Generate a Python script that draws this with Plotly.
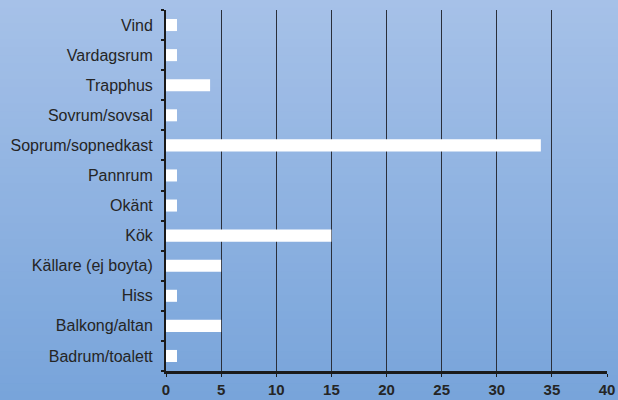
import plotly.graph_objects as go

categories = ["Vind", "Vardagsrum", "Trapphus", "Sovrum/sovsal", "Soprum/sopnedkast",
              "Pannrum", "Okänt", "Kök", "Källare (ej boyta)", "Hiss",
              "Balkong/altan", "Badrum/toalett"]
values = [1, 1, 4, 1, 34, 1, 1, 15, 5, 1, 5, 1]
x_ticks = [0, 5, 10, 15, 20, 25, 30, 35, 40]

fig = go.Figure()
fig.add_trace(go.Bar(
    x=values, y=categories, orientation="h",
    marker=dict(color="white", line=dict(width=0)),
    width=0.4,
))

# vertical background gradient via bands
top = (166, 193, 232)
bot = (120, 164, 218)
T, B = 10, 29
H = 400 - T - B
n = 50
shapes = []
y0p, y1p = 1 + T / H, -B / H
for i in range(n):
    t = i / (n - 1)
    c = tuple(round(top[k] + (bot[k] - top[k]) * t) for k in range(3))
    ya = y0p + (y1p - y0p) * i / n
    yb = y0p + (y1p - y0p) * (i + 1) / n
    shapes.append(dict(type="rect", xref="paper", yref="paper",
                       x0=-0.5, x1=1.1, y0=yb - 0.002, y1=ya + 0.002,
                       fillcolor="rgb(%d,%d,%d)" % c, line=dict(width=0),
                       layer="below"))

fig.update_layout(
    width=618, height=400,
    margin=dict(l=166, r=11, t=T, b=B, autoexpand=False),
    paper_bgcolor="rgb(140,175,223)",
    plot_bgcolor="rgba(0,0,0,0)",
    shapes=shapes,
    showlegend=False,
    bargap=0.6,
    font=dict(family="Liberation Sans, Arial, sans-serif", color="#252525"),
    xaxis=dict(
        range=[0, 40], tickvals=x_ticks, ticktext=["<b>%d</b>" % v for v in x_ticks],
        showgrid=True, gridcolor="#2a2f3a", gridwidth=1,
        showline=True, linecolor="#1a1a1a", linewidth=2.5,
        ticks="outside", ticklen=3, tickcolor="#1a1a1a", tickwidth=1,
        tickfont=dict(size=15, family="Liberation Sans, Arial, sans-serif", color="#252525"),
        zeroline=False, fixedrange=True,
    ),
    yaxis=dict(
        categoryorder="array", categoryarray=categories[::-1],
        autorange=False, range=[-0.5, 11.5],
        showline=True, linecolor="#1a1a1a", linewidth=2,
        ticks="outside", ticklen=3, tickcolor="#1a1a1a", tickwidth=2,
        tickson="boundaries",
        ticklabelstandoff=8,
        showgrid=False,
        tickfont=dict(size=16, color="#252525"),
        fixedrange=True,
    ),
)

fig.write_html("out.html", config={"displayModeBar": False},
               post_script="document.body.style.margin='0';document.body.style.overflow='hidden';")
